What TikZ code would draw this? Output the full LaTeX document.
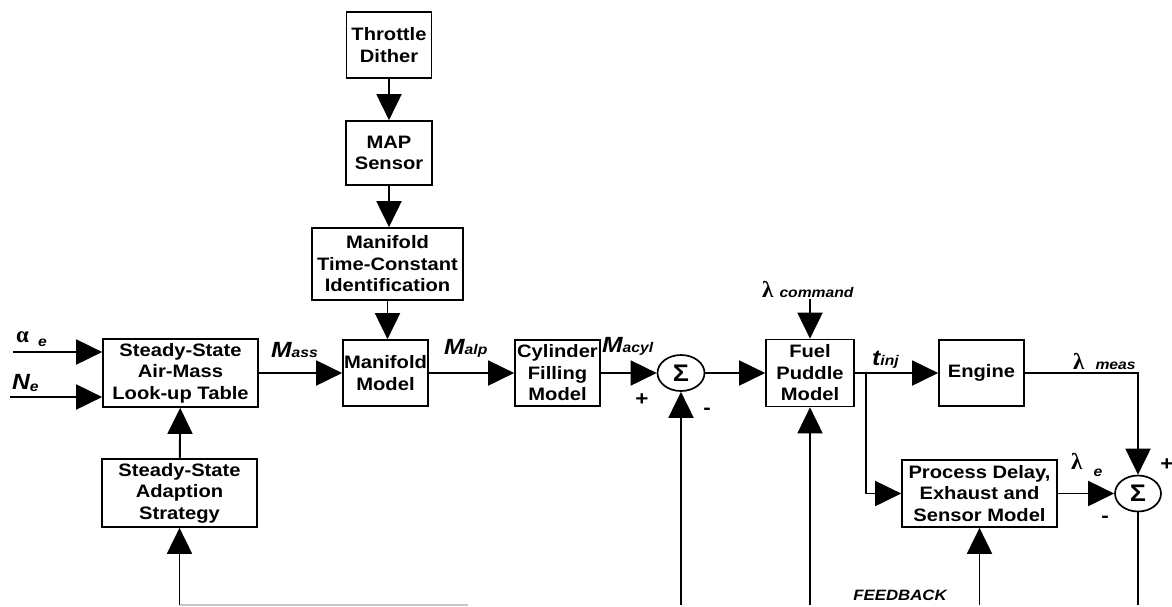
\documentclass[tikz,border=0pt]{standalone}
\usepackage{fontspec}
\setmainfont{Liberation Sans}[FakeStretch=1.12]
\newfontfamily\grkfont{Liberation Serif}
\usetikzlibrary{arrows.meta,shapes.geometric}
% Greek letters and a small same-baseline index
\newcommand\lamb{{\grkfont\bfseries\upshape\fontsize{23}{23}\selectfont λ}}
\newcommand\alfa{{\grkfont\bfseries\upshape\fontsize{23}{23}\selectfont α}}
\newcommand\idx[1]{{\fontsize{14}{14}\selectfont #1}}
\begin{document}
\begin{tikzpicture}[x=1pt,y=-1pt,
  blk/.style={draw, line width=1.7pt, inner sep=0pt, align=center,
    font=\bfseries\fontsize{18}{21.5}\selectfont},
  sumn/.style={draw, ellipse, line width=1.7pt, minimum width=47pt,
    minimum height=36pt, inner sep=0pt, font=\bfseries\fontsize{24}{24}\selectfont},
  sig/.style={line width=1.9pt, -{Triangle[length=26pt,width=25pt]}},
  wire/.style={line width=1.9pt},
  lab/.style={inner sep=0pt, font=\bfseries\itshape\fontsize{22}{22}\selectfont},
  sgn/.style={inner sep=0pt, font=\bfseries\fontsize{20}{20}\selectfont}]
\useasboundingbox (0,0) rectangle (1172,606);

% blocks
\node[blk, minimum width=85pt, minimum height=66pt] (thr) at (389,45) {Throttle\\Dither};
\node[blk, minimum width=86pt, minimum height=64pt] (map) at (389,153) {MAP\\Sensor};
\node[blk, minimum width=151pt, minimum height=72pt] (tci) at (387.5,264) {Manifold\\Time-Constant\\Identification};
\node[blk, minimum width=155pt, minimum height=68pt] (lut) at (180.5,373) {Steady-State\\Air-Mass\\Look-up Table};
\node[blk, minimum width=155pt, minimum height=68pt] (ada) at (179.5,493) {Steady-State\\Adaption\\Strategy};
\node[blk, minimum width=85pt, minimum height=66pt] (man) at (385.5,373) {Manifold\\Model};
\node[blk, minimum width=85pt, minimum height=66pt] (cyl) at (557.5,373) {Cylinder\\Filling\\Model};
\node[sumn] (s1) at (681,373) {Σ};
\node[blk, minimum width=88pt, minimum height=67pt] (fuel) at (810,373) {Fuel\\Puddle\\Model};
\node[blk, minimum width=85pt, minimum height=66pt] (eng) at (981.5,373) {Engine};
\node[blk, minimum width=155pt, minimum height=67pt] (pdl) at (979.5,493.5) {Process Delay,\\Exhaust and\\Sensor Model};
\node[sumn, minimum width=46pt] (s2) at (1138,493.5) {Σ};

% free ends
\coordinate (ain) at (13,352);
\coordinate (nin) at (10,397);
\coordinate (lc) at (810,299);
\coordinate (br) at (866,373);
\coordinate (fb) at (0,605);

% forward path
\draw[sig] (ain) -- (ain -| lut.west);
\draw[sig] (nin) -- (nin -| lut.west);
\draw[sig] (lut) -- (man);
\draw[sig] (thr) -- (map);
\draw[sig] (map) -- (map |- tci.north);
\draw[sig] (tci.south) -- (tci.south |- man.north);
\draw[sig] (man) -- (cyl);
\draw[sig] (cyl) -- (s1);
\draw[sig] (s1) -- (fuel);
\draw[sig] (lc) -- (fuel.north);
\draw[sig] (fuel) -- (eng);
\draw[sig] (br) |- (pdl.west);
\draw[sig] (eng.east) -| (s2.north);
\draw[sig] (pdl) -- (s2);
\draw[sig] (ada) -- (lut);

% feedback lines
\draw[line width=1.2pt, black!22] (ada.south |- fb) -- ++(288,0);
\draw[sig] (ada.south |- fb) -- (ada.south);
\draw[sig] (s1.south |- fb) -- (s1.south);
\draw[sig] (fuel.south |- fb) -- (fuel.south);
\draw[sig] (pdl.south |- fb) -- (pdl.south);
\draw[wire] (s2.south) -- (s2.south |- fb);

% signal labels
\node[lab, anchor=base west] (la) at (16,342) {\alfa\hspace{9pt}\raisebox{-4pt}{\idx{e}}};
\node[lab, anchor=base west] (ln) at (12,389) {N\raisebox{-2pt}{\idx{e}}};
\node[lab, anchor=base west] (lmass) at (271,357) {M\idx{ass}};
\node[lab, anchor=base west] (lmalp) at (444,354) {M\idx{alp}};
\node[lab, anchor=base west] (lmacyl) at (602,352) {M\idx{acyl}};
\node[lab, anchor=base west] (lcmd) at (762,297) {\lamb\hspace{6pt}\idx{command}};
\node[lab, anchor=base west] (ltinj) at (872,365) {t\idx{inj}};
\node[lab, anchor=base west] (lmeas) at (1073,369) {\lamb\hspace{11pt}\idx{meas}};
\node[lab, anchor=base west] (le) at (1071,469) {\lamb\hspace{11pt}\raisebox{-7pt}{\idx{e}}};
\node[lab, anchor=base] (lfb) at (900,600) {\fontsize{15}{15}\selectfont FEEDBACK};

% summing-junction signs
\node[sgn] (p1) at (642,400) {+};
\node[sgn] (m1) at (707,411) {-};
\node[sgn] (p2) at (1167,465) {+};
\node[sgn] (m2) at (1105,519) {-};
\end{tikzpicture}
\end{document}
